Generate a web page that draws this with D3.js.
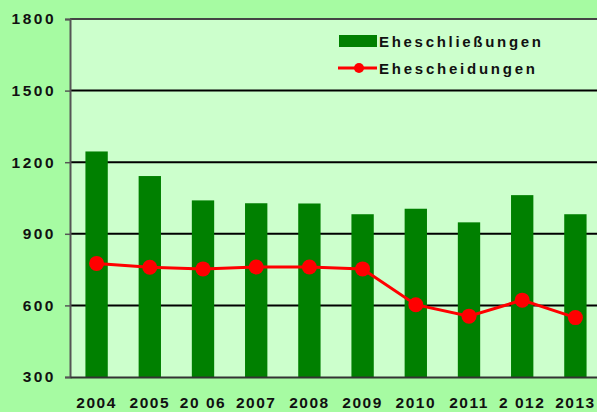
<!DOCTYPE html>
<html>
<head>
<meta charset="utf-8">
<script src="https://cdn.jsdelivr.net/npm/d3@7"></script>
<style>
  body { margin: 0; background: #a6fba2; overflow: hidden; }
  svg { display: block; font-family: Arial, "Liberation Sans", sans-serif; }
</style>
</head>
<body>
<script>
// data
var years = ["2004", "2005", "20 06", "2007", "2008", "2009", "2010", "2011", "2 012", "2013"];
var marriages = [1245, 1142, 1040, 1028, 1027, 982, 1005, 948, 1062, 982];
var divorces = [776, 760, 753, 761, 761, 753, 603, 555, 622, 549];
var yTicks = [300, 600, 900, 1200, 1500, 1800];
var yTickLabels = ["300", "600", "900", "1200", "1500", "1800"];

var width = 597,
  height = 412;
var margin = { top: 19, left: 70, bottom: 377, right: 602 };

var svg = d3.select("body").append("svg")
  .attr("width", width)
  .attr("height", height);

var x = d3.scaleBand()
  .domain(years)
  .range([margin.left, margin.right])
  .paddingInner(0.58)
  .paddingOuter(0.29);

var y = d3.scaleLinear()
  .domain([300, 1800])
  .range([margin.bottom, margin.top]);

// plot background
svg.append("rect")
  .attr("x", margin.left)
  .attr("y", margin.top)
  .attr("width", margin.right - margin.left)
  .attr("height", margin.bottom - margin.top)
  .attr("fill", "#ccffcc");

// gridlines
svg.append("g")
  .selectAll("line")
  .data(yTicks.slice(1, -1))
  .enter()
  .append("line")
  .attr("x1", margin.left)
  .attr("x2", margin.right)
  .attr("y1", function (d) { return y(d); })
  .attr("y2", function (d) { return y(d); })
  .attr("stroke", "#000")
  .attr("stroke-width", 2);

// top border
svg.append("line")
  .attr("x1", margin.left).attr("x2", margin.right)
  .attr("y1", margin.top).attr("y2", margin.top)
  .attr("stroke", "#444").attr("stroke-width", 2);

// bars
svg.append("g")
  .selectAll("rect")
  .data(marriages)
  .enter()
  .append("rect")
  .attr("x", function (d, i) { return x(years[i]); })
  .attr("width", x.bandwidth())
  .attr("y", function (d) { return y(d); })
  .attr("height", function (d) { return y(300) - y(d); })
  .attr("fill", "#008000");

// axes
var yAxis = svg.append("g")
  .attr("transform", "translate(" + margin.left + ",0)")
  .call(d3.axisLeft(y).tickValues(yTicks).tickSize(5)
    .tickFormat(function (d, i) { return yTickLabels[i]; }));
yAxis.select(".domain").attr("stroke", "#555").attr("stroke-width", 2);
yAxis.selectAll(".tick line").attr("stroke", "#555").attr("stroke-width", 1.5);
yAxis.selectAll(".tick text")
  .attr("x", -14)
  .style("font-size", "15.5px")
  .style("font-weight", "bold")
  .style("letter-spacing", "2.5px")
  .attr("fill", "#111");

var xAxis = svg.append("g")
  .attr("transform", "translate(0," + margin.bottom + ")")
  .call(d3.axisBottom(x).tickSize(0));
xAxis.select(".domain").attr("stroke", "#333").attr("stroke-width", 2);
xAxis.selectAll(".tick text")
  .attr("y", 31)
  .attr("dy", 0)
  .style("font-size", "15.5px")
  .style("font-weight", "bold")
  .style("letter-spacing", "1.5px")
  .attr("fill", "#111");

// divorce line
var line = d3.line()
  .x(function (d, i) { return x(years[i]) + x.bandwidth() / 2; })
  .y(function (d) { return y(d); });

svg.append("path")
  .datum(divorces)
  .attr("d", line)
  .attr("fill", "none")
  .attr("stroke", "#ff0000")
  .attr("stroke-width", 3);

svg.append("g")
  .selectAll("circle")
  .data(divorces)
  .enter()
  .append("circle")
  .attr("cx", function (d, i) { return x(years[i]) + x.bandwidth() / 2; })
  .attr("cy", function (d) { return y(d); })
  .attr("r", 7.5)
  .attr("fill", "#ff0000");

// legend
var legend = svg.append("g");
legend.append("rect")
  .attr("x", 339).attr("y", 35)
  .attr("width", 38).attr("height", 12)
  .attr("fill", "#008000");
legend.append("line")
  .attr("x1", 338).attr("x2", 377)
  .attr("y1", 68).attr("y2", 68)
  .attr("stroke", "#ff0000").attr("stroke-width", 3);
legend.append("circle")
  .attr("cx", 359).attr("cy", 68).attr("r", 5)
  .attr("fill", "#ff0000");
legend.append("text")
  .attr("x", 379).attr("y", 47)
  .attr("textLength", 162)
  .style("font-size", "15px")
  .style("font-weight", "bold")
  .attr("fill", "#111")
  .text("Eheschließungen");
legend.append("text")
  .attr("x", 379).attr("y", 74)
  .attr("textLength", 156)
  .style("font-size", "15px")
  .style("font-weight", "bold")
  .attr("fill", "#111")
  .text("Ehescheidungen");
</script>
</body>
</html>
